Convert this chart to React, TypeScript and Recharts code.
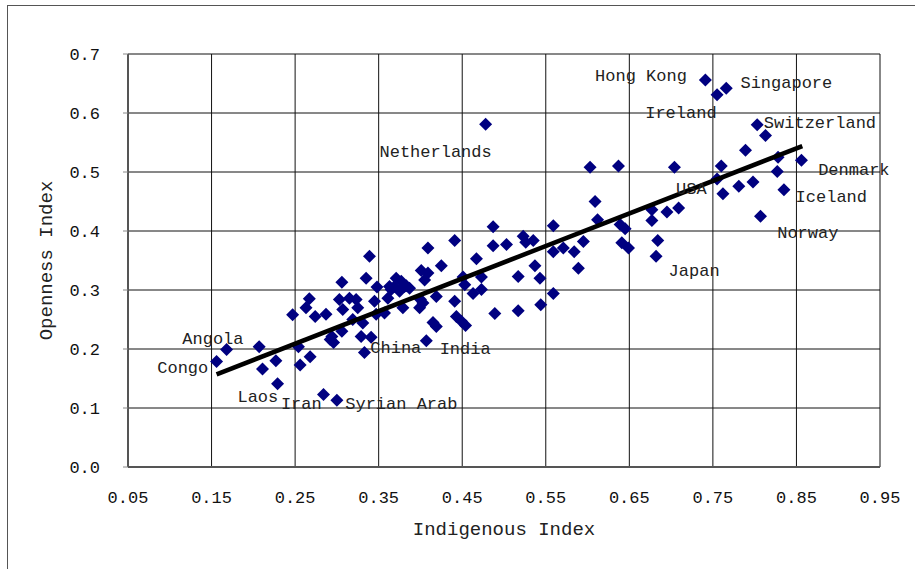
import { Label, Scatter, ScatterChart, XAxis, YAxis, CartesianGrid } from 'recharts';

const FONT = "'Liberation Mono', 'DejaVu Sans Mono', monospace";

const X_TICKS = [0.05, 0.15, 0.25, 0.35, 0.45, 0.55, 0.65, 0.75, 0.85, 0.95];
const Y_TICKS = [0, 0.1, 0.2, 0.3, 0.4, 0.5, 0.6, 0.7];

// indigenous index (x) and openness index (y) for each country
const POINT_X = [
  0.741, 0.766, 0.755, 0.478, 0.803, 0.813, 0.789, 0.828, 0.856, 0.827,
  0.760, 0.755, 0.762, 0.781, 0.798, 0.835, 0.807, 0.704, 0.709, 0.695,
  0.677, 0.677, 0.684, 0.682, 0.637, 0.603, 0.609, 0.612, 0.639, 0.645,
  0.641, 0.649, 0.595, 0.559, 0.589, 0.584, 0.571, 0.559, 0.535, 0.526,
  0.523, 0.503, 0.487, 0.487, 0.441, 0.409, 0.467, 0.425, 0.537, 0.543,
  0.517, 0.559, 0.544, 0.517, 0.489, 0.451, 0.473, 0.453, 0.463, 0.473,
  0.441, 0.443, 0.449, 0.454, 0.415, 0.419, 0.407, 0.401, 0.409, 0.405,
  0.419, 0.400, 0.399, 0.379, 0.387, 0.375, 0.365, 0.369, 0.371, 0.377,
  0.383, 0.348, 0.361, 0.345, 0.347, 0.339, 0.335, 0.306, 0.303, 0.315,
  0.323, 0.307, 0.325, 0.319, 0.331, 0.329, 0.341, 0.333, 0.306, 0.292,
  0.294, 0.296, 0.287, 0.274, 0.267, 0.263, 0.247, 0.268, 0.256, 0.254,
  0.229, 0.227, 0.211, 0.207, 0.168, 0.156, 0.284, 0.300, 0.403, 0.357,
  0.363, 0.381,
];

const POINT_Y = [
  0.656, 0.642, 0.631, 0.581, 0.580, 0.562, 0.537, 0.525, 0.520, 0.501,
  0.510, 0.488, 0.463, 0.476, 0.483, 0.470, 0.425, 0.508, 0.439, 0.432,
  0.436, 0.418, 0.384, 0.357, 0.510, 0.508, 0.450, 0.419, 0.411, 0.404,
  0.380, 0.371, 0.382, 0.409, 0.337, 0.365, 0.371, 0.365, 0.384, 0.381,
  0.391, 0.377, 0.375, 0.407, 0.384, 0.371, 0.353, 0.341, 0.341, 0.320,
  0.323, 0.294, 0.275, 0.265, 0.260, 0.322, 0.322, 0.309, 0.294, 0.301,
  0.281, 0.255, 0.247, 0.240, 0.245, 0.238, 0.214, 0.333, 0.329, 0.317,
  0.289, 0.284, 0.270, 0.270, 0.303, 0.298, 0.301, 0.306, 0.320, 0.315,
  0.307, 0.305, 0.286, 0.281, 0.259, 0.357, 0.320, 0.313, 0.284, 0.286,
  0.284, 0.267, 0.270, 0.250, 0.244, 0.221, 0.220, 0.194, 0.230, 0.216,
  0.221, 0.211, 0.259, 0.255, 0.285, 0.270, 0.258, 0.187, 0.173, 0.204,
  0.141, 0.180, 0.166, 0.204, 0.199, 0.179, 0.123, 0.113, 0.278, 0.261,
  0.306, 0.306,
];

// fitted line end points
const TREND_X = [0.156, 0.857];
const TREND_Y = [0.157, 0.544];

// country names, anchored at the text's left baseline
const LABEL_NAMES = [
  'Hong Kong', 'Singapore', 'Ireland', 'Netherlands', 'Switzerland', 'Denmark',
  'USA', 'Iceland', 'Norway', 'Japan', 'Angola', 'Congo', 'Laos', 'Iran',
  'Syrian Arab', 'China', 'India',
];
const LABEL_X = [
  0.609, 0.783, 0.669, 0.351, 0.811, 0.876, 0.706, 0.849, 0.827, 0.697,
  0.115, 0.085, 0.181, 0.233, 0.310, 0.340, 0.423,
];
const LABEL_Y = [
  0.655, 0.643, 0.592, 0.526, 0.575, 0.495, 0.463, 0.449, 0.388, 0.324,
  0.208, 0.160, 0.111, 0.098, 0.098, 0.193, 0.192,
];

const points = POINT_X.map((x, index) => ({ x, y: POINT_Y[index] }));
const trend = TREND_X.map((x, index) => ({ x, y: TREND_Y[index] }));
const labels = LABEL_NAMES.map((name, index) => ({ name, x: LABEL_X[index], y: LABEL_Y[index] }));

function Diamond(props: any) {
  const { cx, cy } = props;
  const r = 6.5;
  return (
    <polygon
      points={`${cx},${cy - r} ${cx + r},${cy} ${cx},${cy + r} ${cx - r},${cy}`}
      fill="#000080"
    />
  );
}

function CountryName(props: any) {
  const { cx, cy, payload } = props;
  return (
    <text x={cx} y={cy} fontFamily={FONT} fontSize={17} fill="#222">
      {payload.name}
    </text>
  );
}

function YTitle(props: any) {
  const vb = props.viewBox ?? { y: 54, height: 413 };
  const cy = vb.y + vb.height / 2;
  return (
    <text
      x={47}
      y={cy}
      transform={`rotate(-90 47 ${cy})`}
      textAnchor="middle"
      dominantBaseline="central"
      fontFamily={FONT}
      fontSize={19}
      fill="#222"
    >
      Openness Index
    </text>
  );
}

export default function App() {
  return (
    <div
      style={{
        position: 'absolute',
        left: 0,
        top: 0,
        width: 915,
        height: 569,
        overflow: 'hidden',
        background: '#fff',
      }}
    >
      <div
        style={{
          position: 'absolute',
          left: 7,
          top: 5,
          width: 1000,
          height: 700,
          border: '1px solid #555',
        }}
      />
      <div style={{ position: 'absolute', left: 0, top: 0 }}>
        <ScatterChart width={915} height={569} margin={{ top: 54, right: 35, bottom: 22, left: 38 }}>
          <CartesianGrid stroke="#111" strokeWidth={1} />
          <XAxis
            type="number"
            dataKey="x"
            domain={[0.05, 0.95]}
            ticks={X_TICKS}
            height={80}
            tickFormatter={(v: number) => v.toFixed(2)}
            tick={{ fontFamily: FONT, fontSize: 17, fill: '#111' }}
            tickLine={false}
            tickSize={5}
            tickMargin={19}
            axisLine={{ stroke: '#555', strokeWidth: 2 }}
          >
            <Label
              value="Indigenous Index"
              position="insideBottom"
              offset={12}
              style={{ fontFamily: FONT, fontSize: 19, fill: '#222' }}
            />
          </XAxis>
          <YAxis
            type="number"
            dataKey="y"
            domain={[0, 0.7]}
            ticks={Y_TICKS}
            width={90}
            tickFormatter={(v: number) => v.toFixed(1)}
            tick={{ fontFamily: FONT, fontSize: 17, fill: '#111' }}
            tickLine={{ stroke: '#888' }}
            tickSize={5}
            tickMargin={23}
            axisLine={{ stroke: '#555', strokeWidth: 2 }}
          >
            <Label content={YTitle} />
          </YAxis>
          <Scatter data={points} shape={Diamond} isAnimationActive={false} />
          <Scatter
            data={trend}
            line={{ stroke: '#000', strokeWidth: 4.5 }}
            lineType="joint"
            shape={() => <g />}
            isAnimationActive={false}
          />
          <Scatter data={labels} shape={CountryName} isAnimationActive={false} />
        </ScatterChart>
      </div>
    </div>
  );
}
